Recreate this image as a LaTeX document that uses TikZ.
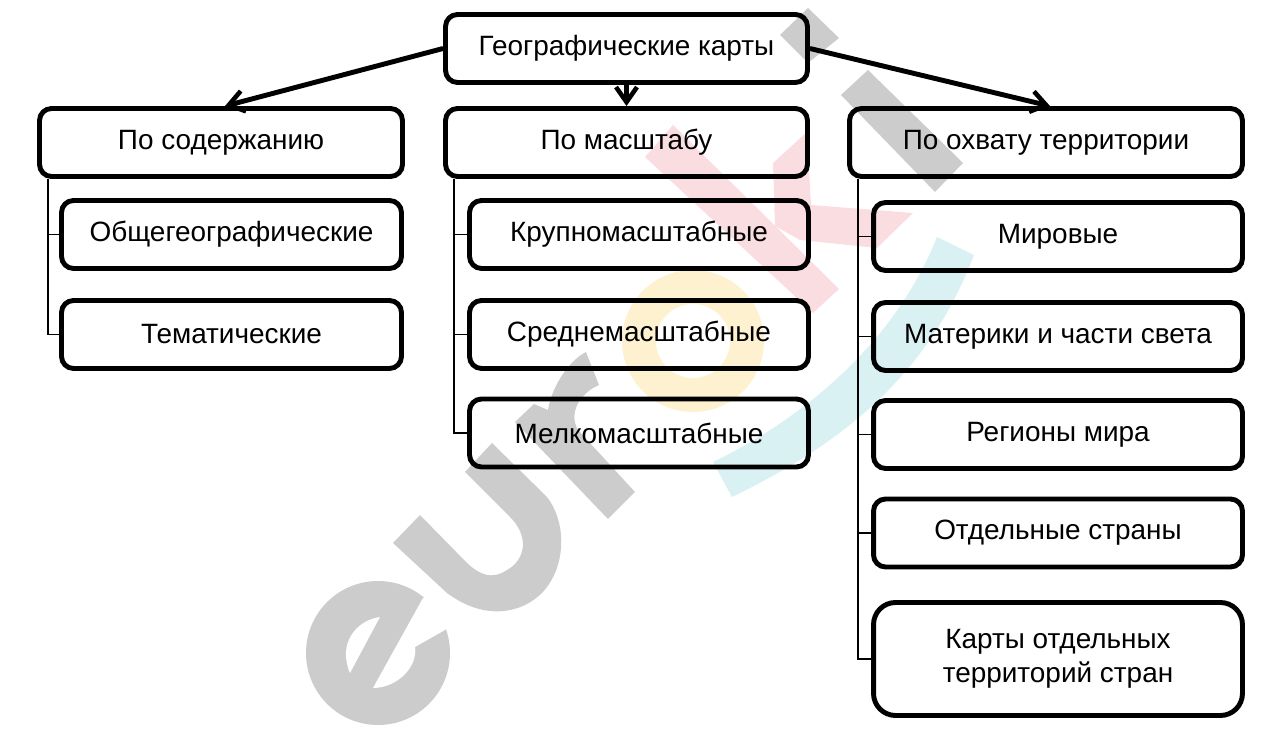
\documentclass[tikz,border=0pt]{standalone}
\usepackage{fontspec}
\setmainfont{Liberation Sans}
\usetikzlibrary{arrows.meta, calc}
\definecolor{markgrey}{HTML}{CCCCCC}
\definecolor{markpink}{HTML}{F9DDE1}
\definecolor{markyellow}{HTML}{FDF1D0}
\definecolor{markcyan}{HTML}{D9F1F2}
\tikzset{
    box/.style={draw, line width=2.8pt, rounded corners=0.24cm, align=center, inner sep=0pt,
        font=\fontsize{15.9}{19.3}\selectfont, minimum height=1.36cm},
    link/.style={line width=2.8pt, -{Straight Barb[length=0.3cm,width=0.42cm,line width=2.6pt]}},
    branch/.style={line width=0.8pt}
}

\begin{document}
\begin{tikzpicture}[x=0.02cm, y=-0.02cm]
    \useasboundingbox (0,0) rectangle (1276,742);
    % Watermark
    \fill[markgrey] (378,653) circle (72);
    \fill[white] (380,617) .. controls (357,620) and (337,643) .. (350,673) -- cycle;
    \fill[white] (423,598) -- (373,688) .. controls (397,688) and (418,667) .. (415,647)
        -- (445,630) -- (465,590) -- cycle;
    \fill[markgrey] (393,543) -- (447,593) .. controls (490,625) and (530,610) .. (547,587)
        .. controls (567,560) and (565,520) .. (547,497) -- (492,443) -- (465,472) -- (510,517)
        .. controls (530,537) and (525,560) .. (507,570) .. controls (492,580) and (480,575) .. (467,563)
        -- (420,515) -- cycle;
    \fill[markgrey] (635,492) -- (608,519) -- (515,422) -- (534,404) -- (548,410)
        .. controls (552,385) and (570,360) .. (586,352) -- (599,385)
        .. controls (580,393) and (568,413) .. (578,430) -- cycle;
    \fill[markyellow, even odd rule] (693,341) circle (71) (693,341) circle (37);
    \fill[markcyan] (937,237) .. controls (900,330) and (820,410) .. (713,462) -- (732,497)
        .. controls (850,440) and (930,370) .. (974,255) -- cycle;
    \fill[markpink] (673,125) -- (839,289) -- (813,313) -- (645,157) -- cycle;
    \fill[markpink] (773,163) -- (807,132) -- (811,205) -- (913,213) -- (877,248) -- (800,240) -- (775,226) -- cycle;
    \fill[markgrey] (868,70) -- (963,163) -- (935,192) -- (841,95) -- cycle;
    \fill[markgrey] (808,8) -- (839,38) -- (808,63) -- (780,35) -- cycle;
    % Boxes
    \node[box, minimum width=7.24cm] (maps) at (626.5,48.5) {Географические карты};
    \node[box, minimum width=7.26cm] (content) at (221,142.5) {По содержанию};
    \node[box, minimum width=7.24cm] (scale) at (626.5,142.5) {По масштабу};
    \node[box, minimum width=7.86cm] (area) at (1046,142.5) {По охвату территории};
    \node[box, minimum width=6.80cm] (general) at (231.5,234.5) {Общегеографические};
    \node[box, minimum width=6.80cm] (thematic) at (231.5,334.5) {Тематические};
    \node[box, minimum width=6.78cm] (large) at (639,234.5) {Крупномасштабные};
    \node[box, minimum width=6.78cm] (medium) at (639,334.5) {Среднемасштабные};
    \node[box, minimum width=6.78cm] (small) at (639,433) {Мелкомасштабные};
    \node[box, minimum width=7.38cm] (world) at (1058,236.5) {Мировые};
    \node[box, minimum width=7.38cm] (continents) at (1058,336.5) {Материки и части света};
    \node[box, minimum width=7.38cm] (regions) at (1058,434.5) {Регионы мира};
    \node[box, minimum width=7.38cm] (countries) at (1058,533) {Отдельные страны};
    \node[box, minimum width=7.38cm, minimum height=2.26cm, rounded corners=0.44cm] (parts) at (1058,659)
        {Карты отдельных\\территорий стран};
    % Arrows
    \draw[link] (maps.west) -- ($(content.north)+(4,0)$);
    \draw[link] (maps.south) -- (scale.north);
    \draw[link] (maps.east) -- ($(area.north)+(4,0)$);
    % Branches
    \foreach \child in {general, thematic}
        \draw[branch] ($(content.south west)+(11,0)$) |- (\child.west);
    \foreach \child in {large, medium, small}
        \draw[branch] ($(scale.south west)+(11,0)$) |- (\child.west);
    \foreach \child in {world, continents, regions, countries, parts}
        \draw[branch] ($(area.south west)+(11,0)$) |- (\child.west);
\end{tikzpicture}
\end{document}
